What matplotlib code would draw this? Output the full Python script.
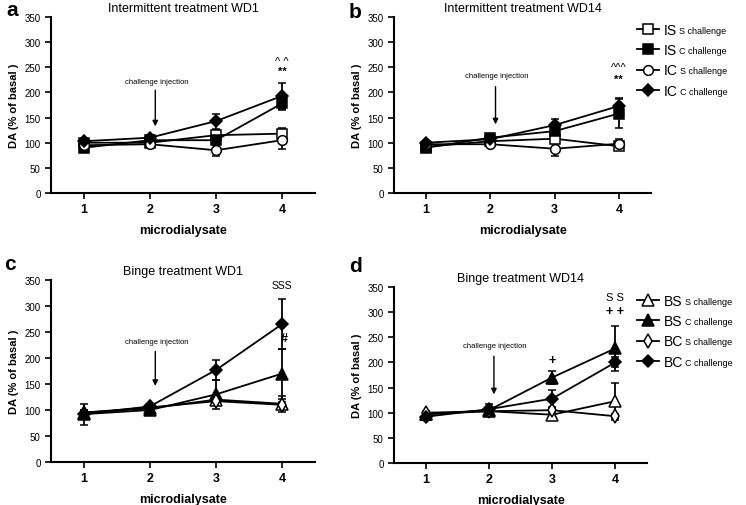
import matplotlib
matplotlib.use("Agg")
import matplotlib.pyplot as plt
import numpy as np

plt.rcParams['font.family'] = ['Liberation Sans', 'DejaVu Sans']

x = [1, 2, 3, 4]
yticks = [0, 50, 100, 150, 200, 250, 300, 350]

# panel a - intermittent WD1
a_iss = [100, 100, 115, 118]; a_iss_err = [5, 5, 10, 12]
a_isc = [90, 105, 105, 178]; a_isc_err = [5, 5, 10, 12]
a_ics = [95, 97, 85, 105]; a_ics_err = [5, 5, 12, 18]
a_icc = [103, 110, 143, 193]; a_icc_err = [5, 5, 15, 25]

# panel b - intermittent WD14
b_iss = [92, 103, 108, 93]; b_iss_err = [5, 5, 8, 8]
b_isc = [90, 110, 123, 158]; b_isc_err = [5, 5, 12, 28]
b_ics = [97, 97, 88, 98]; b_ics_err = [4, 4, 15, 10]
b_icc = [100, 107, 135, 173]; b_icc_err = [4, 5, 12, 15]

# panel c - binge WD1
c_bss = [95, 103, 120, 112]; c_bss_err = [5, 5, 5, 15]
c_bsc = [92, 100, 130, 170]; c_bsc_err = [20, 5, 28, 48]
c_bcs = [95, 105, 117, 110]; c_bcs_err = [5, 5, 5, 5]
c_bcc = [92, 107, 177, 265]; c_bcc_err = [5, 5, 20, 48]

# panel d - binge WD14
d_bss = [97, 103, 96, 123]; d_bss_err = [5, 5, 8, 37]
d_bsc = [97, 105, 170, 228]; d_bsc_err = [5, 12, 13, 45]
d_bcs = [100, 103, 105, 93]; d_bcs_err = [3, 5, 5, 4]
d_bcc = [92, 107, 128, 200]; d_bcc_err = [5, 5, 17, 10]

int_names = [("IS", "S challenge"), ("IS", "C challenge"), ("IC", "S challenge"), ("IC", "C challenge")]
bin_names = [("BS", "S challenge"), ("BS", "C challenge"), ("BC", "S challenge"), ("BC", "C challenge")]

int_style = [dict(marker='s', mfc='white', ms=7), dict(marker='s', mfc='black', ms=7),
             dict(marker='o', mfc='white', ms=7), dict(marker='D', mfc='black', ms=6)]
bin_style = [dict(marker='^', mfc='white', ms=8), dict(marker='^', mfc='black', ms=8),
             dict(marker='d', mfc='white', ms=7), dict(marker='D', mfc='black', ms=6.5)]

fig = plt.figure(figsize=(7.46, 5.06), dpi=100)
W, H = 746, 506

def make_ax(l, t, r, b):
    return fig.add_axes([l / W, 1 - b / H, (r - l) / W, (b - t) / H])

ax_a = make_ax(51, 18, 315, 194)
ax_b = make_ax(394, 18, 651, 194)
ax_c = make_ax(51, 281, 315, 463)
ax_d = make_ax(394, 288, 647, 464)

def draw(ax, series, errs, styles, title, arrow_y, text_y):
    hs = []
    for ys, es, st in zip(series, errs, styles):
        ax.errorbar(x, ys, yerr=es, color='black', lw=1.3, capsize=3, capthick=1.3,
                    elinewidth=1.3, zorder=2, mec='black', mew=1.1, **st)
        h, = ax.plot([], [], color='black', lw=1.3, mec='black', mew=1.1, **st)
        hs.append(h)
    ax.set_xlim(0.5, 4.5)
    ax.set_ylim(0, 350)
    ax.set_yticks(yticks)
    ax.set_xticks(x)
    ax.spines['top'].set_visible(False)
    ax.spines['right'].set_visible(False)
    ax.spines['left'].set_linewidth(1.5)
    ax.spines['bottom'].set_linewidth(1.5)
    ax.tick_params(axis='y', labelsize=7, width=1.2, length=4)
    ax.tick_params(axis='x', labelsize=9, width=1.2, length=4)
    for t in ax.get_xticklabels():
        t.set_fontweight('bold')
    ax.set_xlabel("microdialysate", fontsize=9, fontweight='bold', labelpad=6)
    ax.set_ylabel("DA (% of basal )", fontsize=8, fontweight='bold', labelpad=4)
    ax.set_title(title, fontsize=9, pad=4)
    ax.annotate('', xy=(2.08, arrow_y[1]), xytext=(2.08, arrow_y[0]),
                arrowprops=dict(arrowstyle='-|>', color='black', lw=1.0, mutation_scale=8))
    ax.text(2.1, text_y, "challenge injection", fontsize=5.5, ha='center', va='center')
    return hs

draw(ax_a, [a_iss, a_isc, a_ics, a_icc], [a_iss_err, a_isc_err, a_ics_err, a_icc_err],
     int_style, "Intermittent treatment WD1", (210, 127), 222)
hb = draw(ax_b, [b_iss, b_isc, b_ics, b_icc], [b_iss_err, b_isc_err, b_ics_err, b_icc_err],
          int_style, "Intermittent treatment WD14", (217, 131), 234)
draw(ax_c, [c_bss, c_bsc, c_bcs, c_bcc], [c_bss_err, c_bsc_err, c_bcs_err, c_bcc_err],
     bin_style, "Binge treatment WD1", (218, 141), 231)
hd = draw(ax_d, [d_bss, d_bsc, d_bcs, d_bcc], [d_bss_err, d_bsc_err, d_bcs_err, d_bcc_err],
          bin_style, "Binge treatment WD14", (218, 131), 233)

# significance marks
ax_a.text(4, 262, "^ ^", ha='center', va='center', fontsize=8)
ax_a.text(4, 243, "**", ha='center', va='center', fontsize=8, fontweight='bold')
ax_b.text(4, 250, "^^^", ha='center', va='center', fontsize=8)
ax_b.text(4, 228, "**", ha='center', va='center', fontsize=8, fontweight='bold')
ax_c.text(4, 340, "SSS", ha='center', va='center', fontsize=7.5)
ax_c.text(4.04, 238, "#", ha='center', va='center', fontsize=9, fontweight='bold')
ax_d.text(4, 330, "S S", ha='center', va='center', fontsize=8)
ax_d.text(4, 303, "+ +", ha='center', va='center', fontsize=9, fontweight='bold')
ax_d.text(3, 205, "+", ha='center', va='center', fontsize=9, fontweight='bold')

# panel letters
for lab, (px, py) in zip("abcd", [(12, 10), (355, 12), (10, 265), (355, 267)]):
    fig.text(px / W, 1 - py / H, lab, fontsize=15, fontweight='bold', ha='center', va='center')

# legends: big group name + small challenge text
def add_legend(ax, handles, names, px, py):
    leg = ax.legend(handles, [n[0] for n in names], loc='upper left',
                    bbox_to_anchor=(px / W, 1 - py / H), bbox_transform=fig.transFigure,
                    frameon=False, fontsize=10, handlelength=1.6, handletextpad=0.3,
                    labelspacing=0.45, borderpad=0, borderaxespad=0)
    for t, n in zip(leg.get_texts(), names):
        ax.annotate(n[1], xy=(1, 0.15), xycoords=t, xytext=(2, 0), textcoords='offset points',
                    fontsize=6.5, ha='left', va='bottom', zorder=10, annotation_clip=False)

add_legend(ax_b, hb, int_names, 637, 24)
add_legend(ax_d, hd, bin_names, 637, 295)

fig.savefig("out.png", dpi=100)
